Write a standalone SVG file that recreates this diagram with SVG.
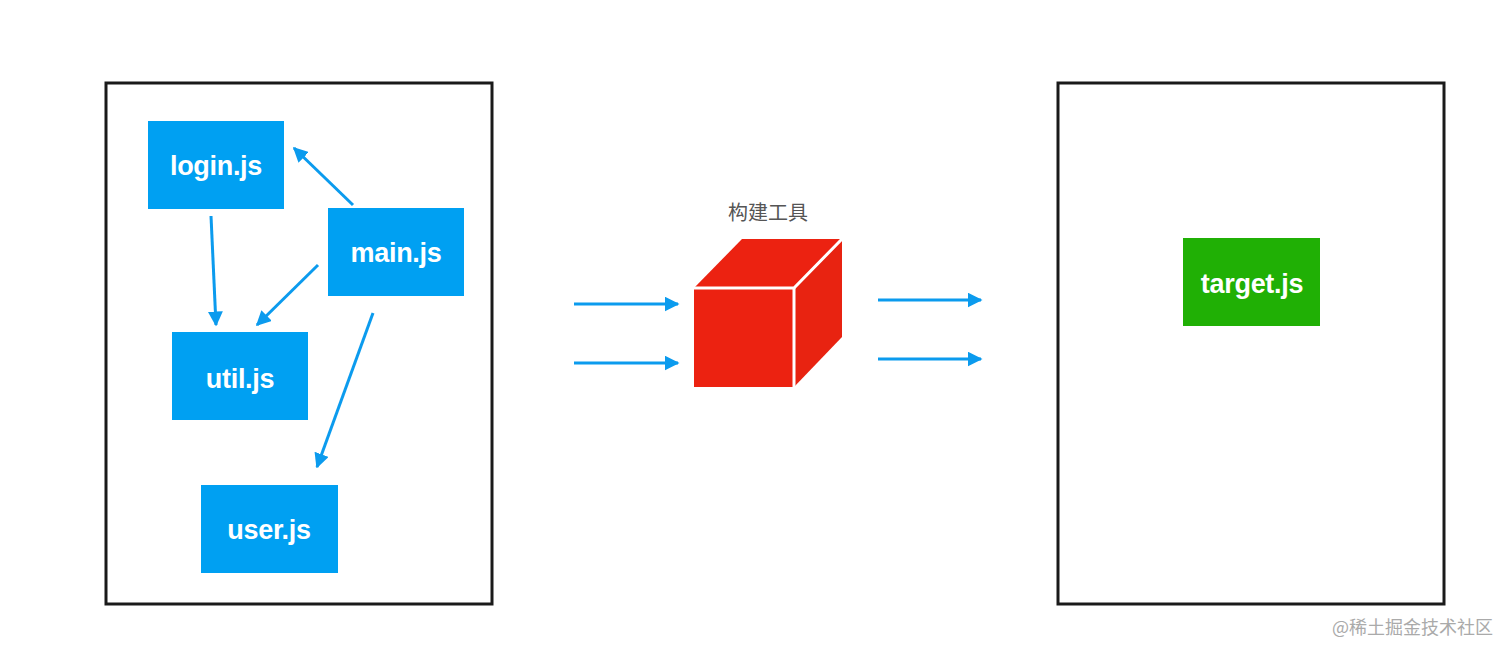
<svg xmlns="http://www.w3.org/2000/svg" width="1512" height="657" viewBox="0 0 1512 657">
<style>
.frame{fill:#fff;stroke:#1a1a1a;stroke-width:3}
.blue{fill:#00A0F2}
.green{fill:#20B005}
.lbl{font-family:"Liberation Sans",Arial,sans-serif;font-size:27px;font-weight:bold;fill:#fff;text-anchor:middle;letter-spacing:-0.3px}
.conn{stroke:#0B9BEE;stroke-width:3;fill:none}
.title{font-family:"Noto Sans CJK SC",sans-serif;font-size:20px;fill:#555;text-anchor:middle}
.wm{font-family:"Noto Sans CJK SC",sans-serif;font-size:18px;fill:#aaa}
</style>
<defs>
<marker id="ah" viewBox="0 0 10 10" refX="9" refY="5" markerWidth="5" markerHeight="5" orient="auto" markerUnits="strokeWidth">
<path d="M0,0 L10,5 L0,10 z" fill="#0B9BEE"/>
</marker>
</defs>
<rect width="1512" height="657" fill="#fff"/>
<g id="source-frame"><rect class="frame" x="106" y="83" width="386" height="521"/></g>
<g id="target-frame"><rect class="frame" x="1058" y="83" width="386" height="521"/></g>
<g id="login"><rect class="blue" x="148" y="121" width="136" height="88"/><text class="lbl" x="216" y="175">login.js</text></g>
<g id="main"><rect class="blue" x="328" y="208" width="136" height="88"/><text class="lbl" x="396" y="262">main.js</text></g>
<g id="util"><rect class="blue" x="172" y="332" width="136" height="88"/><text class="lbl" x="240" y="388">util.js</text></g>
<g id="user"><rect class="blue" x="201" y="485" width="137" height="88"/><text class="lbl" x="269" y="539">user.js</text></g>
<g id="target"><rect class="green" x="1183" y="238" width="137" height="88"/><text class="lbl" x="1252" y="293">target.js</text></g>
<g id="build-tool">
<polygon points="694,288 742,239 842,239 794,288" fill="#EC2211"/>
<polygon points="794,288 842,239 842,337 794,387" fill="#E82311"/>
<rect x="694" y="288" width="100" height="99" fill="#EC2211"/>
<polyline points="694,288 794,288 842,239" fill="none" stroke="#fff" stroke-width="3"/>
<line x1="794" y1="288" x2="794" y2="388" stroke="#fff" stroke-width="3"/>
<text class="title" x="768" y="220">构建工具</text>
</g>
<g id="connectors">
<line class="conn" x1="353" y1="205" x2="294" y2="148" marker-end="url(#ah)"/>
<line class="conn" x1="211" y1="216" x2="216" y2="325" marker-end="url(#ah)"/>
<line class="conn" x1="318" y1="265" x2="257" y2="325" marker-end="url(#ah)"/>
<line class="conn" x1="373" y1="313" x2="317" y2="467" marker-end="url(#ah)"/>
<line class="conn" x1="574" y1="304" x2="678" y2="304" marker-end="url(#ah)"/>
<line class="conn" x1="574" y1="363" x2="678" y2="363" marker-end="url(#ah)"/>
<line class="conn" x1="878" y1="300" x2="981" y2="300" marker-end="url(#ah)"/>
<line class="conn" x1="878" y1="359" x2="981" y2="359" marker-end="url(#ah)"/>
</g>
<text class="wm" x="1332" y="634">@稀土掘金技术社区</text>
</svg>
